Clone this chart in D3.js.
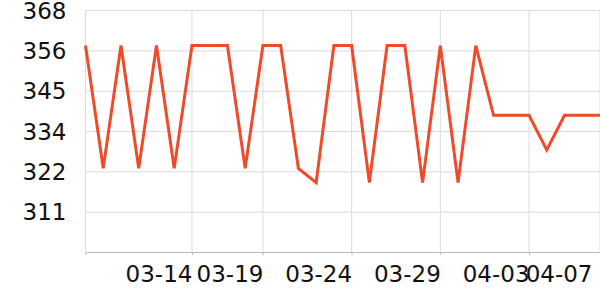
<!DOCTYPE html>
<html>
<head>
<meta charset="utf-8">
<script src="https://cdn.jsdelivr.net/npm/d3@7"></script>
<style>
  body { margin: 0; background: #fff; }
  svg { display: block; font-family: "DejaVu Sans", sans-serif; }
</style>
</head>
<body>
<div id="chart"></div>
<script>
// categories (dates) and series values
const dates = ['03-08', '03-09', '03-10', '03-11', '03-12', '03-13', '03-14', '03-16', '03-17', '03-18',
  '03-19', '03-20', '03-21', '03-22', '03-23', '03-24', '03-25', '03-26', '03-27', '03-28',
  '03-29', '03-30', '03-31', '04-01', '04-02', '04-03', '04-04', '04-05', '04-06', '04-07'];
const values = [358, 323.5, 358, 323.5, 358, 323.5, 358, 358, 358, 323.5,
  358, 358, 323.5, 319.5, 358, 358, 319.5, 358, 358, 319.5,
  358, 319.5, 358, 338.4, 338.4, 338.4, 328.7, 338.4, 338.4, 338.4];
const xTickLabels = ['03-14', '03-19', '03-24', '03-29', '04-03', '04-07'];
const yTickValues = [300, 311.33, 322.67, 334, 345.33, 356.67, 368];

const width = 600;
const height = 300;
const margin = { top: 10, right: 0, bottom: 48, left: 85.5 };

const svg = d3.select('#chart').append('svg')
  .attr('width', width).attr('height', height);

const xScale = d3.scalePoint().domain(dates).range([margin.left, width - margin.right]);
const yScale = d3.scaleLinear().domain([300, 368]).range([height - margin.bottom, margin.top]);

// horizontal grid + y labels
const yAxisG = svg.append('g').attr('transform', `translate(${margin.left},0)`)
  .call(d3.axisLeft(yScale).tickValues(yTickValues)
    .tickSize(-(width - margin.left - margin.right))
    .tickFormat(d => d === 300 ? '' : Math.floor(d)));
yAxisG.select('.domain').remove();
yAxisG.selectAll('.tick line').attr('stroke', '#dcdcdc');
yAxisG.selectAll('.tick text').attr('x', -19).attr('dy', '0.35em')
  .attr('font-size', 23).attr('fill', '#111').attr('font-family', '"DejaVu Sans", sans-serif');

// vertical grid at label ticks
const xTicks = [dates[0]].concat(xTickLabels);
svg.append('g').selectAll('line').data(xTicks).join('line')
  .attr('x1', d => xScale(d)).attr('x2', d => xScale(d))
  .attr('y1', margin.top).attr('y2', height - margin.bottom)
  .attr('stroke', '#dcdcdc');

// x axis
const xAxisG = svg.append('g').attr('transform', `translate(0,${height - margin.bottom})`)
  .call(d3.axisBottom(xScale).tickValues(xTicks).tickSize(3).tickSizeOuter(0)
    .tickFormat(d => d === dates[0] ? '' : d));
xAxisG.select('.domain').attr('stroke', '#bbb');
xAxisG.selectAll('.tick line').attr('stroke', '#bbb');
xAxisG.selectAll('.tick text')
  .attr('text-anchor', 'end').attr('y', 30).attr('dy', 0)
  .attr('font-size', 23).attr('fill', '#111').attr('font-family', '"DejaVu Sans", sans-serif')
  .each(function(d) {
    // keep the last label inside the picture
    const box = this.getBBox();
    const tx = xScale(d);
    if (tx > width - 8) d3.select(this).attr('x', (width - 8) - tx);
  });

// line
const line = d3.line()
  .x((d, i) => xScale(dates[i]))
  .y(d => yScale(d));
svg.append('path').datum(values)
  .attr('fill', 'none')
  .attr('stroke', '#ef4b2b')
  .attr('stroke-width', 3)
  .attr('stroke-linejoin', 'miter')
  .attr('d', line);
</script>
</body>
</html>
